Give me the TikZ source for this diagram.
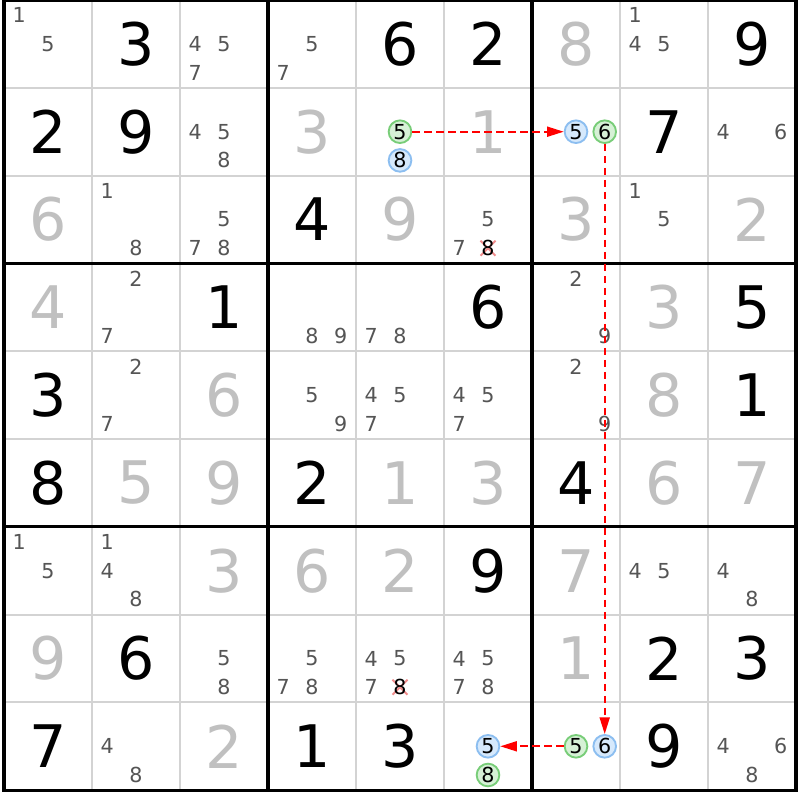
\documentclass[tikz,border=0pt]{standalone}
\usepackage{fontspec}
\setmainfont{DejaVu Sans}
\usetikzlibrary{arrows.meta}

\definecolor{solvedgray}{RGB}{192,192,192}
\definecolor{candgray}{RGB}{85,85,85}
\definecolor{gridgray}{RGB}{211,211,211}
\definecolor{ongreen}{RGB}{120,205,120}
\definecolor{ongreenfill}{RGB}{214,241,214}
\definecolor{offblue}{RGB}{140,190,240}
\definecolor{offbluefill}{RGB}{214,233,252}
\definecolor{crossred}{RGB}{240,140,140}

\tikzset{
  thinline/.style={draw=gridgray, line width=1.5pt},
  boxline/.style={draw=black, line width=2.3pt},
  given/.style={font=\fontsize{44}{44}\selectfont, text=black, inner sep=0pt},
  solved/.style={given, text=solvedgray},
  cand/.style={font=\fontsize{15.5}{15.5}\selectfont, text=candgray, inner sep=0pt},
  oncand/.style={cand, text=black, circle, draw=ongreen, fill=ongreenfill, line width=1.4pt, minimum size=17pt},
  offcand/.style={oncand, draw=offblue, fill=offbluefill},
  crossout/.style={draw=crossred, line width=1.4pt},
  chain/.style={draw=red, line width=1.4pt, dash pattern=on 5.5pt off 3.5pt, -{Triangle[length=12.5pt,width=7.5pt]}}
}

\begin{document}
\begin{tikzpicture}[x=0.75pt,y=0.75pt,yscale=-1,xscale=1]
\useasboundingbox (0,0) rectangle (800,800);
\fill[white] (0,0) rectangle (800,800);

% cell lines
\foreach \i in {1,2,4,5,7,8} {
  \draw[thinline] ({4+88*\i},0) -- ({4+88*\i},790.2);
  \draw[thinline] (4,{87.8*\i}) -- (796,{87.8*\i});
}
% box lines
\foreach \i in {3,6} {
  \draw[boxline] ({4+88*\i},0) -- ({4+88*\i},790.2);
  \draw[boxline] (4,{87.8*\i}) -- (796,{87.8*\i});
}
\draw[boxline] (4,0) rectangle (796,790.2);

% given digits
\foreach \rw/\cl/\dg in {1/2/3,1/5/6,1/6/2,1/9/9,2/1/2,2/2/9,2/8/7,3/4/4,4/3/1,4/6/6,4/9/5,
    5/1/3,5/9/1,6/1/8,6/4/2,6/7/4,7/6/9,8/2/6,8/8/2,8/9/3,9/1/7,9/4/1,9/5/3,9/8/9}
  \node[given] (v\rw\cl) at ({88*\cl-40},{87.8*\rw-43.9}) {\dg};

% solved digits
\foreach \rw/\cl/\dg in {1/7/8,2/4/3,2/6/1,3/1/6,3/5/9,3/7/3,3/9/2,4/1/4,4/8/3,5/3/6,5/8/8,
    6/2/5,6/3/9,6/5/1,6/6/3,6/8/6,6/9/7,7/3/3,7/4/6,7/5/2,7/7/7,8/1/9,8/7/1,9/3/2}
  \node[solved] (v\rw\cl) at ({88*\cl-40},{87.8*\rw-43.9}) {\dg};

% candidates
\foreach \rw/\cl/\ds in {1/1/{1,5},1/3/{4,5,7},1/4/{5,7},1/8/{1,4,5},2/3/{4,5,8},2/9/{4,6},
    3/2/{1,8},3/3/{5,7,8},3/6/{5,7},3/8/{1,5},4/2/{2,7},4/4/{8,9},4/5/{7,8},4/7/{2,9},
    5/2/{2,7},5/4/{5,9},5/5/{4,5,7},5/6/{4,5,7},5/7/{2,9},7/1/{1,5},7/2/{1,4,8},7/8/{4,5},
    7/9/{4,8},8/3/{5,8},8/4/{5,7,8},8/5/{4,5,7},8/6/{4,5,7,8},9/2/{4,8},9/9/{4,6,8}}
  \foreach \dg in \ds
    \node[cand] (n\rw\cl\dg) at ({88*\cl-40+28.7*(mod(\dg-1,3)-1)},{87.8*\rw-43.9+28.7*(int((\dg-1)/3)-1)}) {\dg};

% eliminated candidates
\coordinate (x368) at (488,248.2);
\coordinate (x858) at (400,687.2);
\draw[crossout] (x368) ++(-7.5,-7.5) -- ++(15,15) (x368) ++(-7.5,7.5) -- ++(15,-15);
\draw[crossout] (x858) ++(-7.5,-7.5) -- ++(15,15) (x858) ++(-7.5,7.5) -- ++(15,-15);
\node[cand, text=black] (n368) at (x368) {8};
\node[cand, text=black] (n858) at (x858) {8};

% chain candidates
\node[oncand] (n255) at (400,131.7) {5};
\node[offcand] (n258) at (400,160.4) {8};
\node[offcand] (n275) at (576,131.7) {5};
\node[oncand] (n276) at (604.7,131.7) {6};
\node[oncand] (n975) at (576,746.3) {5};
\node[offcand] (n976) at (604.7,746.3) {6};
\node[offcand] (n965) at (488,746.3) {5};
\node[oncand] (n968) at (488,775) {8};

% links
\draw[chain] (n255) -- (n275);
\draw[chain] (n276) -- (n976);
\draw[chain] (n975) -- (n965);

\end{tikzpicture}
\end{document}
